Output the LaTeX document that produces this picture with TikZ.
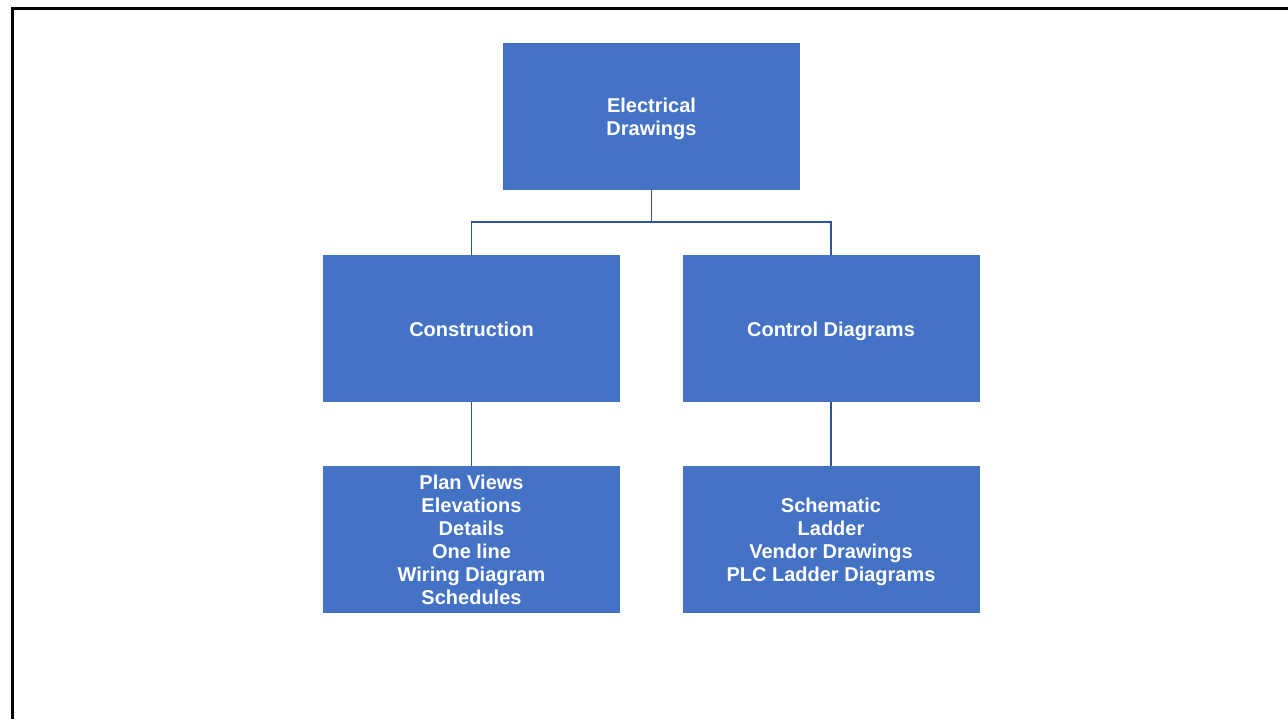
\documentclass[tikz,border=0pt]{standalone}
\usepackage{fontspec}
\setmainfont{Liberation Sans}
\usetikzlibrary{positioning}

\definecolor{boxblue}{HTML}{4472C4}
\definecolor{linkblue}{HTML}{2F5597}

% strut for first and last text lines
\newcommand{\blockstrut}{\vrule height 15pt depth 3.2pt width 0pt}

\tikzset{
  block/.style={rectangle, fill=boxblue, text=white, font=\bfseries\fontsize{15}{17.25}\selectfont,
    minimum width=222.75pt, minimum height=110.25pt, inner sep=0pt,
    execute at begin node=\blockstrut, execute at end node=\blockstrut},
  link/.style={draw=linkblue, line width=1.4pt}
}

\begin{document}
\begin{tikzpicture} [align=center, x=0.75pt, y=-0.75pt]
\useasboundingbox (0, 0) rectangle (1288, 719);
% frame
\draw[line width=2.3pt] (1288, 8.5) -- (12.5, 8.5) -- (12.5, 719);

\path (651.5, 116.5) node[block] (elec) {\blockstrut Electrical\\Drawings}
	  (471.5, 328.5) node[block] (constr) {Construction}
	  (831, 328.5) node[block] (ctrl) {Control Diagrams}
	  (471.5, 539.5) node[block] (constrlist) {\blockstrut Plan Views\\Elevations\\Details\\One line\\Wiring Diagram\\Schedules}
	  (831, 539.5) node[block] (ctrllist) {\blockstrut Schematic\\Ladder\\Vendor Drawings\\PLC Ladder Diagrams};
\coordinate (split) at (651.5, 222);

\draw[link] (elec.south) -- (split) -| (constr.north);
\draw[link] (split) -| (ctrl.north);
\draw[link] (constr) -- (constrlist);
\draw[link] (ctrl) -- (ctrllist);
\end{tikzpicture}
\end{document}
